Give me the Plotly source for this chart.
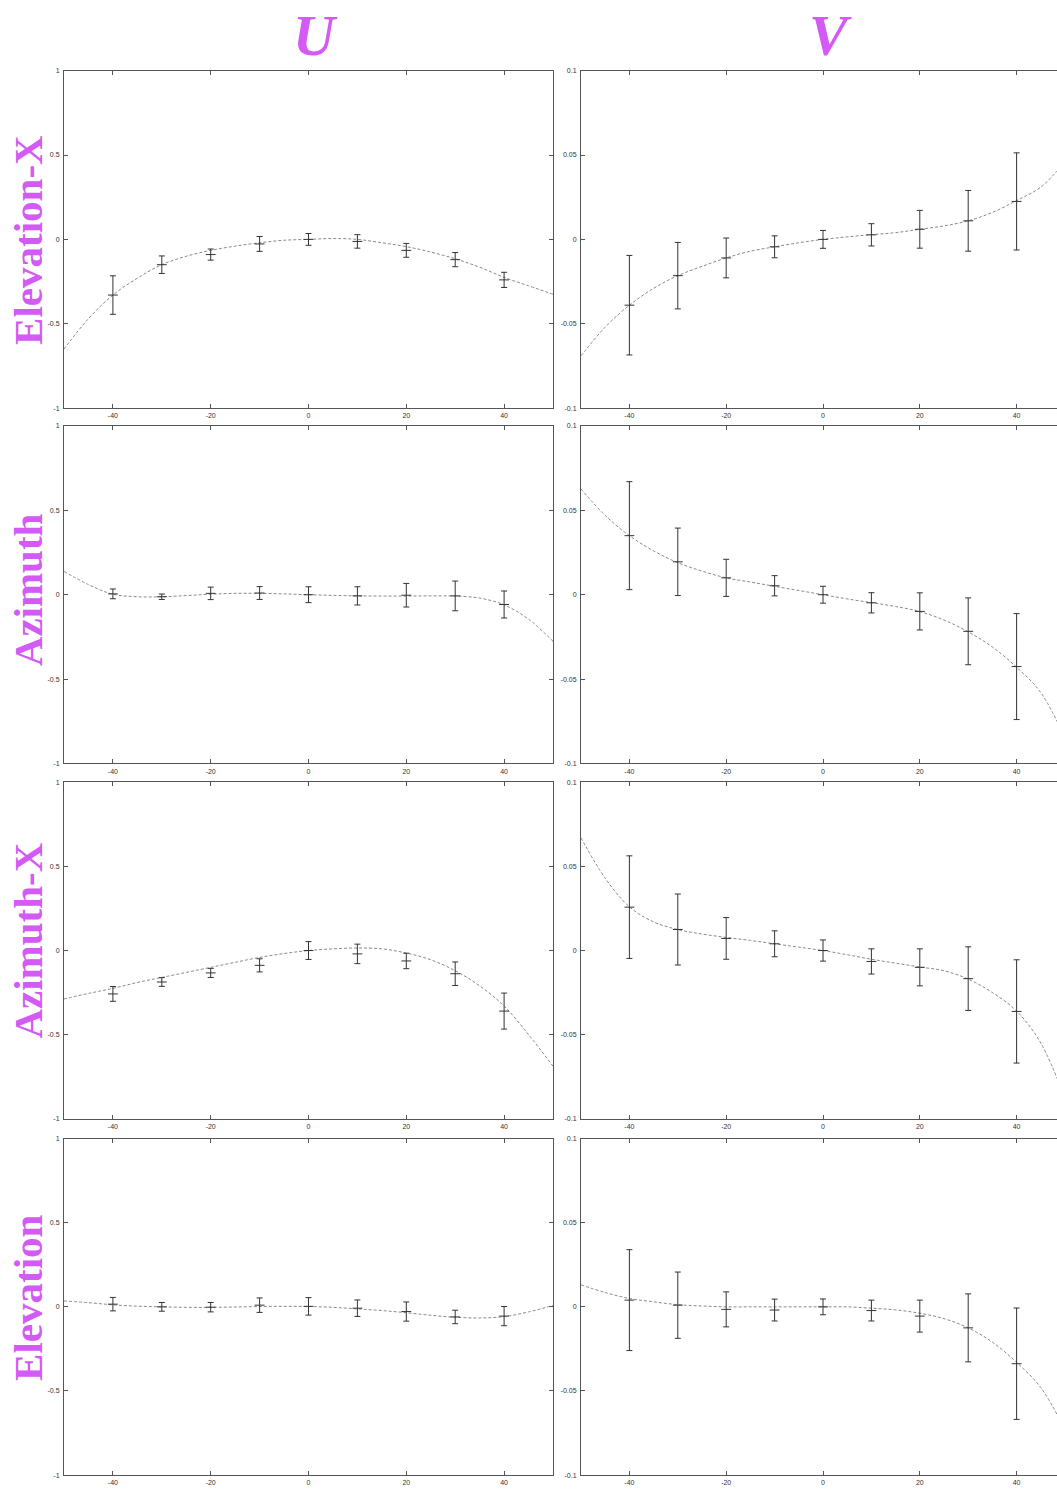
import plotly.graph_objects as go
from plotly.subplots import make_subplots

# ---------------- data ----------------
X_PTS = [-40, -30, -20, -10, 0, 10, 20, 30, 40]
CURVE_X = [-50, -45, -40, -35, -30, -25, -20, -15, -10, -5, 0, 5, 10, 15, 20, 25, 30, 35, 40, 45, 50]

ROW_LABELS = ["Elevation-X", "Azimuth", "Azimuth-X", "Elevation"]
COL_LABELS = ["U", "V"]

X_TICKS = [-40, -20, 0, 20, 40]
X_TICKTEXT = ["-40", "-20", "0", "20", "40"]
U_TICKS = [-1, -0.5, 0, 0.5, 1]
U_TICKTEXT = ["-1", "-0.5", "0", "0.5", "1"]
V_TICKS = [-0.1, -0.05, 0, 0.05, 0.1]
V_TICKTEXT = ["-0.1", "-0.05", "0", "0.05", "0.1"]

# Elevation-X
elx_u_y = [-0.33, -0.15, -0.09, -0.027, 0.0, -0.012, -0.065, -0.12, -0.24]
elx_u_err = [0.114, 0.052, 0.033, 0.044, 0.035, 0.04, 0.041, 0.042, 0.045]
elx_u_fit = [-0.65, -0.47, -0.33, -0.23, -0.15, -0.10, -0.065, -0.04, -0.02, -0.005, 0.0,
             0.005, 0.0, -0.02, -0.043, -0.075, -0.115, -0.165, -0.225, -0.275, -0.325]
elx_v_y = [-0.039, -0.0215, -0.011, -0.0044, 0.0, 0.0027, 0.006, 0.011, 0.0225]
elx_v_err = [0.0295, 0.0197, 0.0118, 0.0065, 0.0053, 0.0066, 0.0112, 0.018, 0.0288]
elx_v_fit = [-0.069, -0.052, -0.039, -0.029, -0.0215, -0.016, -0.011, -0.007, -0.0044, -0.002, 0.0,
             0.0015, 0.0028, 0.004, 0.006, 0.008, 0.011, 0.016, 0.023, 0.031, 0.046]

# Azimuth
az_u_y = [0.005, -0.012, 0.008, 0.01, 0.0, -0.007, -0.003, -0.007, -0.058]
az_u_err = [0.029, 0.016, 0.037, 0.038, 0.047, 0.054, 0.07, 0.088, 0.08]
az_u_fit = [0.138, 0.06, 0.003, -0.012, -0.012, -0.005, 0.003, 0.008, 0.008, 0.005, 0.0,
            -0.004, -0.007, -0.008, -0.008, -0.007, -0.008, -0.02, -0.06, -0.145, -0.276]
az_v_y = [0.035, 0.0195, 0.010, 0.0053, 0.0, -0.0048, -0.0099, -0.0217, -0.0426]
az_v_err = [0.032, 0.02, 0.011, 0.006, 0.005, 0.006, 0.011, 0.0198, 0.0314]
az_v_fit = [0.0627, 0.047, 0.035, 0.026, 0.019, 0.014, 0.010, 0.0075, 0.005, 0.0025, 0.0,
            -0.0025, -0.0047, -0.007, -0.010, -0.015, -0.022, -0.031, -0.043, -0.058, -0.085]

# Azimuth-X
azx_u_y = [-0.258, -0.187, -0.133, -0.088, 0.0, -0.02, -0.062, -0.138, -0.36]
azx_u_err = [0.044, 0.026, 0.027, 0.039, 0.053, 0.058, 0.046, 0.07, 0.107]
azx_u_fit = [-0.288, -0.255, -0.225, -0.19, -0.16, -0.13, -0.10, -0.07, -0.041, -0.018, 0.0,
             0.01, 0.015, 0.01, -0.015, -0.055, -0.12, -0.21, -0.33, -0.5, -0.688]
azx_v_y = [0.0258, 0.0125, 0.0072, 0.004, 0.0, -0.0065, -0.01, -0.0167, -0.0362]
azx_v_err = [0.0305, 0.0211, 0.0124, 0.0077, 0.0063, 0.0075, 0.011, 0.0189, 0.0307]
azx_v_fit = [0.067, 0.043, 0.026, 0.017, 0.0125, 0.0098, 0.0078, 0.006, 0.004, 0.002, 0.0,
             -0.0025, -0.0052, -0.0075, -0.0098, -0.012, -0.017, -0.025, -0.036, -0.055, -0.088]

# Elevation
el_u_y = [0.016, 0.0, -0.002, 0.01, 0.003, -0.008, -0.028, -0.06, -0.055]
el_u_err = [0.04, 0.026, 0.028, 0.043, 0.052, 0.049, 0.057, 0.04, 0.057]
el_u_fit = [0.035, 0.025, 0.012, 0.004, 0.0, -0.003, -0.003, -0.001, 0.002, 0.003, 0.002,
            -0.003, -0.012, -0.022, -0.035, -0.05, -0.062, -0.066, -0.058, -0.03, 0.008]
el_v_y = [0.004, 0.001, -0.0015, -0.0019, 0.0, -0.0022, -0.0055, -0.0125, -0.0338]
el_v_err = [0.030, 0.0197, 0.0104, 0.0065, 0.0047, 0.0062, 0.0095, 0.0202, 0.0331]
el_v_fit = [0.0131, 0.0085, 0.005, 0.003, 0.0013, 0.0005, 0.0, 0.0, 0.0, 0.0, 0.0,
            0.0, -0.0008, -0.0018, -0.0038, -0.007, -0.0125, -0.021, -0.033, -0.048, -0.073]

PANELS = [
    [(elx_u_y, elx_u_err, elx_u_fit), (elx_v_y, elx_v_err, elx_v_fit)],
    [(az_u_y, az_u_err, az_u_fit), (az_v_y, az_v_err, az_v_fit)],
    [(azx_u_y, azx_u_err, azx_u_fit), (azx_v_y, azx_v_err, azx_v_fit)],
    [(el_u_y, el_u_err, el_u_fit), (el_v_y, el_v_err, el_v_fit)],
]

# ---------------- layout geometry ----------------
W, H = 1057, 1490
COL_PX = [(64, 553), (581, 1057)]
ROW_PX = [(67, 406), (424, 763), (782, 1120), (1140, 1478)]
LABEL_CY = [237, 589, 941, 1300]
TITLE_CX = [315, 830]

ACCENT = "#d45af5"
INK = "#333333"
AXIS = "#555555"

fig = make_subplots(rows=4, cols=2)

for r in range(4):
    for c in range(2):
        y, err, fit = PANELS[r][c]
        fig.add_trace(go.Scatter(
            x=CURVE_X, y=fit, mode="lines", line_shape="spline",
            line=dict(color="#8a8a8a", width=1, dash="3px,2px"),
            hoverinfo="skip", showlegend=False), row=r + 1, col=c + 1)
        fig.add_trace(go.Scatter(
            x=X_PTS, y=y, mode="markers",
            marker=dict(symbol="line-ew", size=7, color=INK, line=dict(color=INK, width=1)),
            error_y=dict(type="data", array=err, visible=True, color=INK, thickness=1, width=3),
            showlegend=False), row=r + 1, col=c + 1)

tickfont = dict(family="Liberation Sans, Arial, sans-serif", size=7, color=INK)

for r in range(4):
    for c in range(2):
        idx = r * 2 + c + 1
        xname = "xaxis" if idx == 1 else f"xaxis{idx}"
        yname = "yaxis" if idx == 1 else f"yaxis{idx}"
        x0, x1 = COL_PX[c]
        t, b = ROW_PX[r]
        fig.layout[xname].update(
            domain=[x0 / W, x1 / W],
            range=[-50, 50] if c == 0 else [-50, 50 - (1065 - 1057) * 100 / (1065 - 581)],
            tickvals=X_TICKS, ticktext=X_TICKTEXT,
            ticks="inside", ticklen=4, tickcolor=AXIS, tickwidth=1,
            showline=True, linecolor=AXIS, linewidth=1, mirror="ticks",
            showgrid=False, zeroline=False, tickfont=tickfont, ticklabelstandoff=1,
        )
        fig.layout[yname].update(
            domain=[1 - b / H, 1 - t / H],
            range=[-1, 1] if c == 0 else [-0.1, 0.1],
            tickvals=U_TICKS if c == 0 else V_TICKS,
            ticktext=U_TICKTEXT if c == 0 else V_TICKTEXT,
            ticks="inside", ticklen=4, tickcolor=AXIS, tickwidth=1,
            showline=True, linecolor=AXIS, linewidth=1,
            mirror="ticks" if c == 0 else False,
            showgrid=False, zeroline=False, tickfont=tickfont, ticklabelstandoff=2,
        )

annotations = []
for c, lab in enumerate(COL_LABELS):
    annotations.append(dict(
        text=f"<b><i>{lab}</i></b>", x=TITLE_CX[c] / W, y=1 - 32 / H,
        xref="paper", yref="paper", xanchor="center", yanchor="middle", showarrow=False,
        font=dict(family="Liberation Serif, Times New Roman, serif", size=58, color=ACCENT)))
for r, lab in enumerate(ROW_LABELS):
    annotations.append(dict(
        text=f"<b>{lab}</b>", x=28 / W, y=1 - LABEL_CY[r] / H, textangle=-90,
        xref="paper", yref="paper", xanchor="center", yanchor="middle", showarrow=False,
        font=dict(family="Liberation Serif, Times New Roman, serif", size=41, color=ACCENT)))

fig.update_layout(
    width=W, height=H, margin=dict(l=0, r=0, t=0, b=0),
    paper_bgcolor="white", plot_bgcolor="white",
    showlegend=False, annotations=annotations,
)

fig.write_html("out.html")
